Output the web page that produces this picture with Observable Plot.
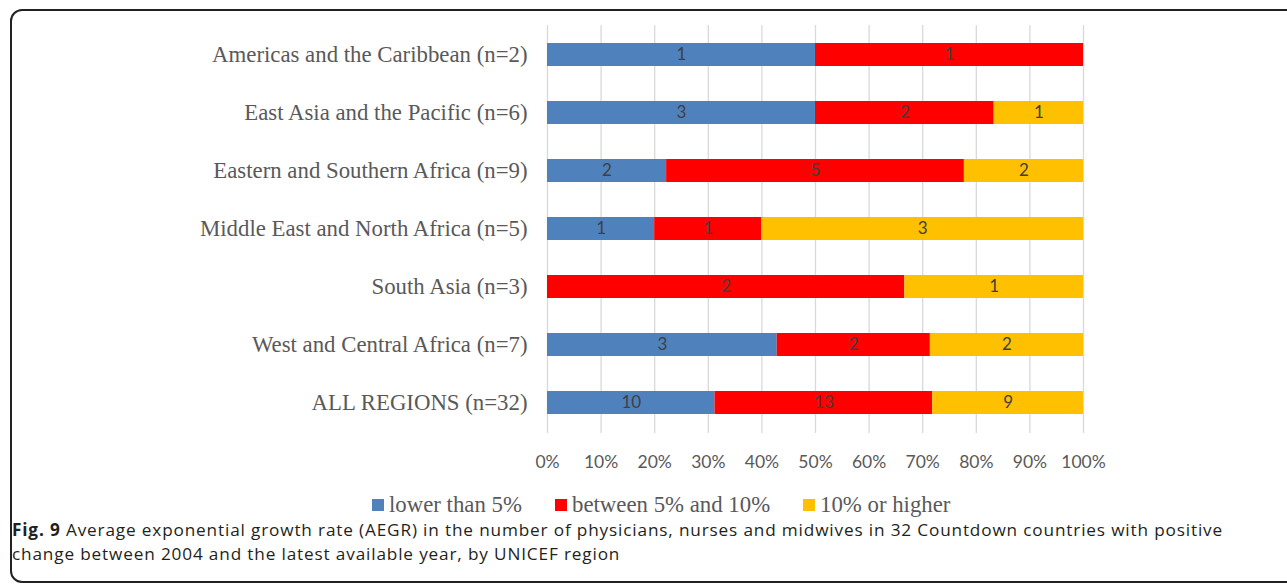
<!DOCTYPE html>
<html>
<head>
<meta charset="utf-8">
<script src="https://cdn.jsdelivr.net/npm/d3@7"></script>
<script src="https://cdn.jsdelivr.net/npm/@observablehq/plot@0.6"></script>
<style>
  html, body { margin: 0; padding: 0; background: #fff; }
  body { width: 1287px; height: 588px; position: relative; overflow: hidden; }
  #frame { position: absolute; left: 10px; top: 9px; width: 1300px; height: 574px; border: 2px solid #222; border-radius: 12px; box-sizing: border-box; }
  #chart { position: absolute; left: 0; top: 0; }
  #legend { position: absolute; top: 492px; left: 0; width: 1287px; font-family: "Liberation Serif", serif; font-size: 22.8px; color: #595959; }
  .li { position: absolute; top: 0; white-space: nowrap; line-height: 26px; }
  .sw { display: inline-block; width: 12px; height: 12px; margin-right: 5px; vertical-align: 1px; }
  #caption { position: absolute; left: 12px; top: 518px; font-family: "Open Sans", sans-serif; font-size: 17.2px; line-height: 23.5px; color: #231f20; }
  .cl { white-space: nowrap; }
</style>
</head>
<body>
<div id="frame"></div>
<div id="chart"></div>
<div id="legend"></div>
<div id="caption"></div>
<script>
const regions = [
  "Americas and the Caribbean (n=2)",
  "East Asia and the Pacific (n=6)",
  "Eastern and Southern Africa (n=9)",
  "Middle East and North Africa (n=5)",
  "South Asia (n=3)",
  "West and Central Africa (n=7)",
  "ALL REGIONS (n=32)"
];
const categories = ["lower than 5%", "between 5% and 10%", "10% or higher"];
const lowerThan5 = [1, 3, 2, 1, 0, 3, 10];
const between5and10 = [1, 2, 5, 1, 2, 2, 13];
const tenOrHigher = [0, 1, 2, 3, 1, 2, 9];
const colors = ["#4f81bd", "#ff0000", "#ffc000"];
const xTicks = [0, 0.1, 0.2, 0.3, 0.4, 0.5, 0.6, 0.7, 0.8, 0.9, 1];
const captionLines = [
  "Average exponential growth rate (AEGR) in the number of physicians, nurses and midwives in 32 Countdown countries with positive",
  "change between 2004 and the latest available year, by UNICEF region"
];

const series = [lowerThan5, between5and10, tenOrHigher];
const table = [];
regions.forEach((r, i) => {
  series.forEach((s, k) => {
    table.push({region: r, category: categories[k], count: s[i]});
  });
});

const chart = Plot.plot({
  width: 1287,
  height: 480,
  marginLeft: 547,
  marginRight: 204,
  marginTop: 25,
  marginBottom: 47,
  x: {domain: [0, 1]},
  y: {domain: regions, paddingInner: 0.6, paddingOuter: 0.3},
  color: {domain: categories, range: colors},
  marks: [
    Plot.gridX(xTicks, {stroke: "#d9d9d9", strokeOpacity: 1, strokeWidth: 1.3}),
    Plot.barX(table, Plot.stackX({x: "count", y: "region", fill: "category", order: categories, offset: "normalize"})),
    Plot.text(table, Plot.stackX({x: "count", y: "region", z: "category", text: d => d.count > 0 ? String(d.count) : "", order: categories, offset: "normalize", fill: "#404040", fontSize: 17, fontFamily: "Lato, sans-serif"})),
    Plot.axisX(xTicks, {tickFormat: d => Math.round(d * 100) + "%", tickSize: 0, tickPadding: 22, fontSize: 17.5, fontFamily: "Lato, sans-serif", fill: "#595959", label: null}),
    Plot.axisY({tickSize: 0, tickPadding: 20, fontSize: 22.8, fontFamily: "Liberation Serif, serif", fill: "#595959", label: null})
  ]
});
document.getElementById("chart").appendChild(chart);

const legend = document.getElementById("legend");
const lx = [372, 555, 803];
categories.forEach((c, k) => {
  const el = document.createElement("div");
  el.className = "li";
  el.style.left = lx[k] + "px";
  el.innerHTML = `<span class="sw" style="background:${colors[k]}"></span>${c}`;
  legend.appendChild(el);
});

const cap = document.getElementById("caption");
const l1 = document.createElement("div");
l1.className = "cl";
l1.innerHTML = "<b>Fig. 9</b> " + captionLines[0];
const l2 = document.createElement("div");
l2.className = "cl";
l2.textContent = captionLines[1];
cap.appendChild(l1);
cap.appendChild(l2);
// widen letter spacing so line 1 spans the same width as the reference
const span = document.createElement("span");
span.innerHTML = l1.innerHTML;
span.style.whiteSpace = "nowrap";
l1.innerHTML = "";
l1.appendChild(span);
const w = span.getBoundingClientRect().width;
const n = l1.textContent.length;
const ls = Math.max(0, (1211 - w) / n);
cap.style.letterSpacing = ls + "px";
</script>
</body>
</html>
